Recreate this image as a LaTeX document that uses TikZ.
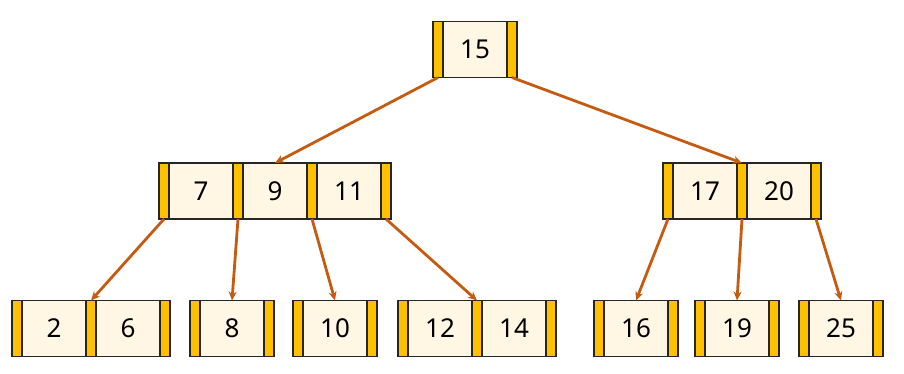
\documentclass[tikz,border=0pt]{standalone}
\usepackage{fontspec}
\setmainfont{Noto Sans}
\usetikzlibrary{arrows.meta, positioning}

\definecolor{ptrgold}{HTML}{FFC000}
\definecolor{keycream}{HTML}{FFF6E3}
\definecolor{edgeline}{HTML}{262626}
\definecolor{linkorange}{HTML}{C55A11}

\begin{document}
\begin{tikzpicture}[
    x=1pt, y=-1pt,
    ptr/.style={rectangle, draw=edgeline, line width=1.1pt, fill=ptrgold,
                minimum width=10pt, minimum height=56pt, inner sep=0pt, outer sep=0pt},
    key/.style={rectangle, draw=edgeline, line width=1.1pt, fill=keycream,
                minimum width=64pt, minimum height=56pt, inner sep=0pt, outer sep=0pt,
                font=\fontsize{26}{30}\selectfont},
    link/.style={-{Stealth[length=9pt, width=8pt]}, line width=2.8pt, draw=linkorange}
  ]
  \useasboundingbox (0,0) rectangle (904,373);

  % root
  \node[ptr] (r-p0) at (438,49.5) {};
  \node[key, right=0pt of r-p0] (r-k1) {15};
  \node[ptr, right=0pt of r-k1] (r-p1) {};

  % internal level
  \node[ptr] (a-p0) at (164,191) {};
  \node[key, right=0pt of a-p0] (a-k1) {7};
  \node[ptr, right=0pt of a-k1] (a-p1) {};
  \node[key, right=0pt of a-p1] (a-k2) {9};
  \node[ptr, right=0pt of a-k2] (a-p2) {};
  \node[key, right=0pt of a-p2] (a-k3) {11};
  \node[ptr, right=0pt of a-k3] (a-p3) {};

  \node[ptr] (b-p0) at (668,191) {};
  \node[key, right=0pt of b-p0] (b-k1) {17};
  \node[ptr, right=0pt of b-k1] (b-p1) {};
  \node[key, right=0pt of b-p1] (b-k2) {20};
  \node[ptr, right=0pt of b-k2] (b-p2) {};

  % leaves
  \node[ptr] (l1-p0) at (17,328.5) {};
  \node[key, right=0pt of l1-p0] (l1-k1) {2};
  \node[ptr, right=0pt of l1-k1] (l1-p1) {};
  \node[key, right=0pt of l1-p1] (l1-k2) {6};
  \node[ptr, right=0pt of l1-k2] (l1-p2) {};

  \node[ptr] (l2-p0) at (195,328.5) {};
  \node[key, right=0pt of l2-p0] (l2-k1) {8};
  \node[ptr, right=0pt of l2-k1] (l2-p1) {};

  \node[ptr] (l3-p0) at (298,328.5) {};
  \node[key, right=0pt of l3-p0] (l3-k1) {10};
  \node[ptr, right=0pt of l3-k1] (l3-p1) {};

  \node[ptr] (l4-p0) at (403,328.5) {};
  \node[key, right=0pt of l4-p0] (l4-k1) {12};
  \node[ptr, right=0pt of l4-k1] (l4-p1) {};
  \node[key, right=0pt of l4-p1] (l4-k2) {14};
  \node[ptr, right=0pt of l4-k2] (l4-p2) {};

  \node[ptr] (l5-p0) at (599,328.5) {};
  \node[key, right=0pt of l5-p0] (l5-k1) {16};
  \node[ptr, right=0pt of l5-k1] (l5-p1) {};

  \node[ptr] (l6-p0) at (700,328.5) {};
  \node[key, right=0pt of l6-p0] (l6-k1) {19};
  \node[ptr, right=0pt of l6-k1] (l6-p1) {};

  \node[ptr] (l7-p0) at (804,328.5) {};
  \node[key, right=0pt of l7-p0] (l7-k1) {25};
  \node[ptr, right=0pt of l7-k1] (l7-p1) {};

  % child pointers
  \draw[link] (r-p0.south) -- (a-k2.north);
  \draw[link] (r-p1.south) -- (b-p1.north);

  \draw[link] (a-p0.south) -- (l1-p1.north);
  \draw[link] (a-p1.south) -- (l2-k1.north);
  \draw[link] (a-p2.south) -- (l3-k1.north);
  \draw[link] (a-p3.south) -- (l4-p1.north);

  \draw[link] (b-p0.south) -- (l5-k1.north);
  \draw[link] (b-p1.south) -- (l6-k1.north);
  \draw[link] (b-p2.south) -- (l7-k1.north);
\end{tikzpicture}
\end{document}
